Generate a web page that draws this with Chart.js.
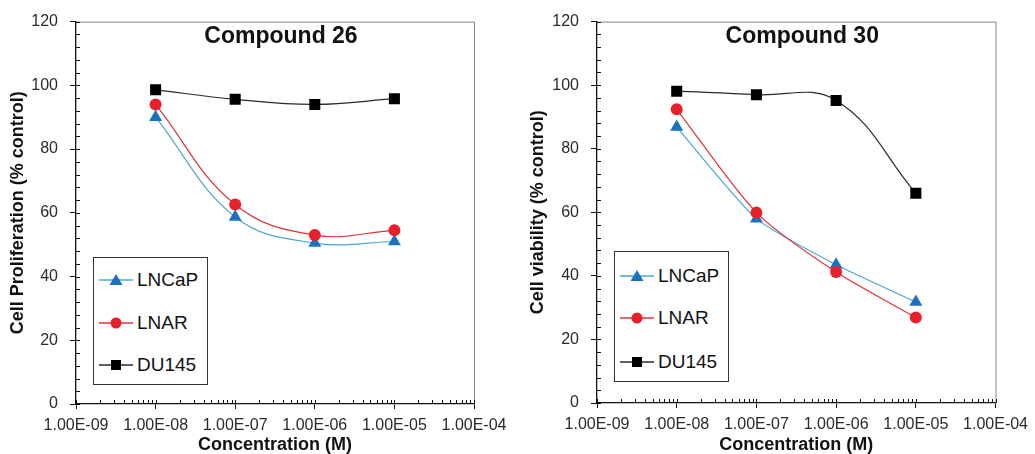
<!DOCTYPE html>
<html>
<head>
<meta charset="utf-8">
<script src="https://cdn.jsdelivr.net/npm/chart.js@4/dist/chart.umd.min.js"></script>
<style>
  html, body { margin: 0; padding: 0; background: #fff; }
  body { width: 1035px; height: 454px; position: relative; overflow: hidden; font-family: "Liberation Sans", Arial, sans-serif; }
  .panel { position: absolute; top: 0; height: 454px; }
  .legend { position: absolute; border: 1px solid #333; background: #fff; box-sizing: border-box; }
  .legend .row { position: absolute; left: 0; height: 24px; display: flex; align-items: center; }
  .legend .row span { font-size: 19px; color: #111; margin-left: 2px; }
</style>
</head>
<body>
<div class="panel" style="left:0;width:518px"><canvas id="chart26" width="518" height="454"></canvas></div>
<div class="panel" style="left:518px;width:517px"><canvas id="chart30" width="517" height="454"></canvas></div>
<div class="legend" id="legend26" style="left:93px;top:257px;width:115px;height:128px"></div>
<div class="legend" id="legend30" style="left:614px;top:251px;width:115px;height:131px"></div>

<script>
// === DATA ===
const concentrations = [1e-8, 1e-7, 1e-6, 1e-5];
const xMajorTicks = [1e-9, 1e-8, 1e-7, 1e-6, 1e-5, 1e-4];
const xTickLabels = ["1.00E-09", "1.00E-08", "1.00E-07", "1.00E-06", "1.00E-05", "1.00E-04"];
const xMinorSteps = [1, 2, 3, 4, 5, 6, 7, 8, 9];

const seriesNames = ["LNCaP", "LNAR", "DU145"];

// Compound 26 - cell proliferation
const lncap26 = [90, 58.7, 50.5, 51];
const lnar26 = [94, 62.6, 53, 54.5];
const du145_26 = [98.6, 95.6, 94, 95.8];

// Compound 30 - cell viability
const lncap30 = [86.8, 58, 43.5, 31.8];
const lnar30 = [92.4, 59.9, 41.2, 26.9];
const du145_30 = [98.1, 97, 95.2, 66];

// === STYLES ===
const styles = [
  { line: "#4aa6d3", fill: "#1c70c0", point: "triangle", radius: 7.5, order: 3 },
  { line: "#df3338", fill: "#e8202a", point: "circle", radius: 6, order: 2 },
  { line: "#2a2a2a", fill: "#000000", point: "rect", radius: 7.8, order: 1 }
];

Chart.defaults.font.family = '"Liberation Sans", Arial, sans-serif';
Chart.defaults.font.size = 16;
Chart.defaults.color = "#2a2a2a";

// all tick positions on the log axis (1..9 x each decade, plus the last decade)
const xAllTicks = [];
xMajorTicks.slice(0, -1).forEach(d => xMinorSteps.forEach(s => xAllTicks.push(s * d)));
xAllTicks.push(xMajorTicks[xMajorTicks.length - 1]);

function majorIndex(value) {
  return xMajorTicks.findIndex(m => Math.abs(m - value) / m < 1e-6);
}

// frame, inner tick marks and title inside the plot
const frameAndTicks = {
  id: "frameAndTicks",
  afterDraw(chart, args, opts) {
    const { ctx, chartArea: a, scales: { x, y } } = chart;
    ctx.save();
    ctx.lineWidth = 1;
    ctx.strokeStyle = "#8a8a8a";
    ctx.beginPath();
    ctx.moveTo(a.left, a.top + 0.5);
    ctx.lineTo(a.right + 0.5, a.top + 0.5);
    ctx.lineTo(a.right + 0.5, a.bottom);
    ctx.stroke();

    ctx.strokeStyle = "#111";
    ctx.beginPath();
    x.ticks.forEach(t => {
      const px = Math.round(x.getPixelForValue(t.value)) + 0.5;
      ctx.moveTo(px, a.bottom);
      ctx.lineTo(px, a.bottom - 4);
    });
    y.ticks.forEach(t => {
      const py = Math.round(y.getPixelForValue(t.value)) + 0.5;
      ctx.moveTo(a.left, py);
      ctx.lineTo(a.left + 4, py);
    });
    ctx.stroke();

    ctx.font = 'bold 23px "Liberation Sans", Arial, sans-serif';
    ctx.fillStyle = "#111";
    ctx.textAlign = "center";
    ctx.textBaseline = "alphabetic";
    ctx.fillText(opts.title, (a.left + a.right) / 2 + 6, a.top + 21);
    ctx.restore();
  }
};

function makeDatasets(values, tensions) {
  return values.map((vals, i) => ({
    label: seriesNames[i],
    data: concentrations.map((c, j) => ({ x: c, y: vals[j] })),
    borderColor: styles[i].line,
    borderWidth: 1.2,
    backgroundColor: styles[i].fill,
    pointBackgroundColor: styles[i].fill,
    pointBorderColor: styles[i].fill,
    pointBorderWidth: 0,
    pointStyle: styles[i].point,
    pointRadius: styles[i].radius,
    tension: tensions[i],
    order: styles[i].order,
    fill: false
  }));
}

function makeChart(id, opt) {
  return new Chart(document.getElementById(id), {
    type: "line",
    data: { datasets: makeDatasets(opt.values, opt.tensions) },
    plugins: [frameAndTicks],
    options: {
      responsive: false,
      animation: false,
      layout: { padding: { left: 0, top: 21, right: opt.padRight, bottom: 0 } },
      plugins: {
        legend: { display: false },
        tooltip: { enabled: false },
        frameAndTicks: { title: opt.title }
      },
      scales: {
        x: {
          type: "logarithmic",
          min: xMajorTicks[0],
          max: xMajorTicks[xMajorTicks.length - 1],
          afterBuildTicks: scale => { scale.ticks = xAllTicks.map(v => ({ value: v })); },
          afterFit: scale => { scale.height = opt.xHeight; },
          ticks: {
            autoSkip: false,
            maxRotation: 0,
            minRotation: 0,
            padding: 7,
            color: "#2a2a2a",
            callback: v => {
              const i = majorIndex(v);
              return i >= 0 ? xTickLabels[i] : "";
            }
          },
          grid: {
            drawOnChartArea: false,
            drawTicks: true,
            tickLength: 5,
            tickColor: c => (c.tick && majorIndex(c.tick.value) >= 0 ? "#111" : "rgba(0,0,0,0)")
          },
          border: { color: "#111", width: 1.3 },
          title: {
            display: true,
            text: "Concentration (M)",
            color: "#111",
            font: { weight: "bold", size: 18, lineHeight: 1 },
            padding: { top: 0, bottom: 0 }
          }
        },
        y: {
          min: 0,
          max: 120,
          afterFit: scale => { scale.width = opt.yWidth; },
          ticks: {
            stepSize: 4,
            autoSkip: false,
            padding: 12,
            color: "#2a2a2a",
            callback: v => (v % 20 === 0 ? v : "")
          },
          grid: {
            drawOnChartArea: false,
            drawTicks: true,
            tickLength: 6,
            tickColor: c => (c.tick && c.tick.value % 20 === 0 ? "#111" : "rgba(0,0,0,0)")
          },
          border: { color: "#111", width: 1.3 },
          title: {
            display: true,
            text: opt.yTitle,
            color: "#111",
            font: { weight: "bold", size: 18, lineHeight: 1 },
            padding: { top: opt.yTitlePad, bottom: 0 }
          }
        }
      }
    }
  });
}

// === LEGEND (html box inside the plot) ===
function markerSvg(s) {
  let shape = "";
  if (s.point === "triangle") shape = `<polygon points="17,4 23.5,15 10.5,15" fill="${s.fill}"/>`;
  else if (s.point === "circle") shape = `<circle cx="17" cy="10" r="5.5" fill="${s.fill}"/>`;
  else shape = `<rect x="12" y="5" width="10" height="10" fill="${s.fill}"/>`;
  return `<svg width="36" height="20" viewBox="0 0 36 20"><line x1="0" y1="10" x2="34" y2="10" stroke="${s.line}" stroke-width="1.3"/>${shape}</svg>`;
}

function buildLegend(id, rowTops) {
  const box = document.getElementById(id);
  seriesNames.forEach((name, i) => {
    const row = document.createElement("div");
    row.className = "row";
    row.style.top = rowTops[i] + "px";
    row.style.left = "5px";
    row.innerHTML = markerSvg(styles[i]) + `<span>${name}</span>`;
    box.appendChild(row);
  });
}

// === CHARTS ===
makeChart("chart26", {
  values: [lncap26, lnar26, du145_26],
  tensions: [0.4, 0.4, 0.4],
  title: "Compound 26",
  yTitle: "Cell Proliferation (% control)",
  yWidth: 76, xHeight: 50, padRight: 44, yTitlePad: 9
});

makeChart("chart30", {
  values: [lncap30, lnar30, du145_30],
  tensions: [0.2, 0.25, 0.4],
  title: "Compound 30",
  yTitle: "Cell viability (% control)",
  yWidth: 79, xHeight: 51, padRight: 34, yTitlePad: 11
});

buildLegend("legend26", [10, 53, 95]);
buildLegend("legend30", [12, 54, 98]);
</script>
</body>
</html>
